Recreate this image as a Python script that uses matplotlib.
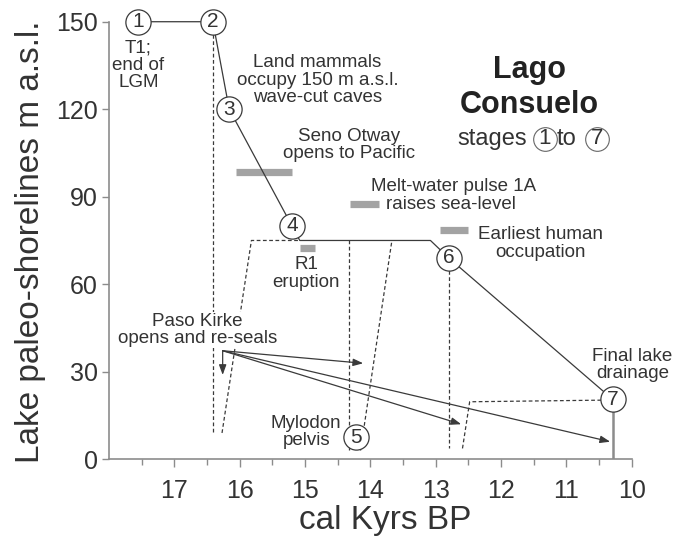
import matplotlib
matplotlib.use("Agg")
import matplotlib.pyplot as plt

plt.rcParams['font.family'] = ['Liberation Sans', 'DejaVu Sans']

# ---- data ----
stage_x = [17.55, 16.41, 16.16, 15.20, 14.22, 12.80, 10.29]
stage_y = [150, 150, 120, 80, 7.5, 69, 20.5]
stage_labels = ['1', '2', '3', '4', '5', '6', '7']

shore_x = [17.55, 16.41, 16.16, 15.20, 15.08, 13.08, 12.80, 10.29]
shore_y = [150, 150, 120, 80, 75, 75, 69, 20.5]
drain_x = [10.29, 10.29]
drain_y = [20.5, 0]

dashed_paths = [
    ([16.41, 16.41], [150, 9]),
    ([16.27, 15.82, 15.08], [9, 75, 75]),
    ([14.32, 14.32], [75, 3]),
    ([14.15, 13.67], [3, 75]),
    ([12.79, 12.79], [69, 3.7]),
    ([12.59, 12.48, 10.29], [3.7, 19.7, 20.3]),
]

arrow_start = (16.26, 37.2)
arrow_ends = [(16.26, 28.9), (14.11, 32.9), (12.61, 12.0), (10.33, 6.0)]

grey_bars = [
    ((16.05, 15.20), 98.5),
    ((15.08, 14.84), 72.3),
    ((14.31, 13.86), 87.5),
    ((12.94, 12.50), 78.6),
]

annotations = [
    ("T1;\nend of\nLGM", 17.55, 135.0),
    ("Land mammals\noccupy 150 m a.s.l.\nwave-cut caves", 14.81, 130.0),
    ("Seno Otway\nopens to Pacific", 14.32, 107.8),
    ("Melt-water pulse 1A", 12.72, 93.6),
    ("Earliest human\noccupation", 11.39, 74.0),
    ("R1\neruption", 14.98, 63.7),
    ("Mylodon\npelvis", 14.98, 9.3),
    ("Final lake\ndrainage", 9.99, 32.3),
]

xticks = [17, 16, 15, 14, 13, 12, 11, 10]
yticks = [0, 30, 60, 90, 120, 150]

# ---- figure ----
fig = plt.figure(figsize=(6.76, 5.39), dpi=100)
ax = fig.add_axes([0.1612, 0.148, 0.7733, 0.8117])
ax.set_xlim(18, 10)
ax.set_ylim(0, 150)

dark = '#3a3a3a'
txt = '#333333'
axc = '#8c8c8c'

ax.plot(shore_x, shore_y, color=dark, lw=0.9, zorder=3, clip_on=False)
ax.plot(drain_x, drain_y, color=axc, lw=1.8, zorder=3)
for xs, ys in dashed_paths:
    ax.plot(xs, ys, color=dark, lw=0.9, ls=(0, (3, 2)), zorder=2, clip_on=False)

for ex, ey in arrow_ends:
    ax.annotate('', xy=(ex, ey), xytext=arrow_start,
                arrowprops=dict(arrowstyle='-|>,head_length=0.6,head_width=0.22',
                                color=dark, lw=0.9,
                                mutation_scale=10, shrinkA=0, shrinkB=0),
                zorder=4)

for (x0, x1), y in grey_bars:
    ax.plot([x0, x1], [y, y], color='#a3a3a3', lw=5.2, solid_capstyle='butt', zorder=2)

ax.scatter(stage_x, stage_y, s=330, facecolor='white', edgecolor=dark,
           linewidth=0.9, zorder=5, clip_on=False)
for x, y, lab in zip(stage_x, stage_y, stage_labels):
    ax.text(x, y, lab, ha='center', va='center', fontsize=15, color=txt,
            zorder=6, clip_on=False)

for s, x, y in annotations:
    ax.text(x, y, s, ha='center', va='center', fontsize=13.5, color=txt,
            linespacing=1.02, zorder=6)
ax.text(16.65, 44.3, "Paso Kirke\nopens and re-seals", ha='center', va='center',
        fontsize=13.5, color=txt, linespacing=1.02, zorder=6,
        bbox=dict(facecolor='white', edgecolor='none', pad=1))
ax.text(13.76, 87.2, "raises sea-level", ha='left', va='center', fontsize=13.5,
        color=txt, zorder=6)

# Title block
ax.text(11.56, 127.5, "Lago\nConsuelo", ha='center', va='center', fontsize=22,
        fontweight='bold', color='#222222', linespacing=1.2, zorder=6)
ax.text(12.13, 109.9, "stages", ha='center', va='center', fontsize=17, color=txt, zorder=6)
ax.text(11.00, 109.9, "to", ha='center', va='center', fontsize=17, color=txt, zorder=6)
for cx, lab in [(11.33, '1'), (10.53, '7')]:
    ax.scatter([cx], [109.9], s=290, facecolor='white', edgecolor='#666666',
               linewidth=0.8, zorder=5)
    ax.text(cx, 109.9, lab, ha='center', va='center', fontsize=16, color=txt, zorder=6)

# axes styling
for sp in ['top', 'right']:
    ax.spines[sp].set_visible(False)
for sp in ['left', 'bottom']:
    ax.spines[sp].set_color(axc)
    ax.spines[sp].set_linewidth(1.2)

ax.set_xticks(xticks)
ax.set_xticks([17.5, 16.5, 15.5, 14.5, 13.5, 12.5, 11.5, 10.5], minor=True)
ax.set_yticks(yticks)
ax.tick_params(axis='both', which='major', colors=axc, labelcolor=txt,
               labelsize=18, length=6, width=1)
ax.tick_params(axis='x', which='minor', colors=axc, length=4, width=1)
ax.tick_params(axis='x', which='major', pad=8)
ax.tick_params(axis='y', which='major', pad=3, length=5)

ax.set_xlabel("cal Kyrs BP", fontsize=24, color=txt)
ax.xaxis.label.set_va('center')
ax.xaxis.set_label_coords(0.528, -0.139)
ax.set_ylabel("Lake paleo-shorelines m a.s.l.", fontsize=24, color=txt)
ax.yaxis.label.set_va('center')
ax.yaxis.set_label_coords(-0.151, 0.496)

fig.savefig("out.png", dpi=100)
